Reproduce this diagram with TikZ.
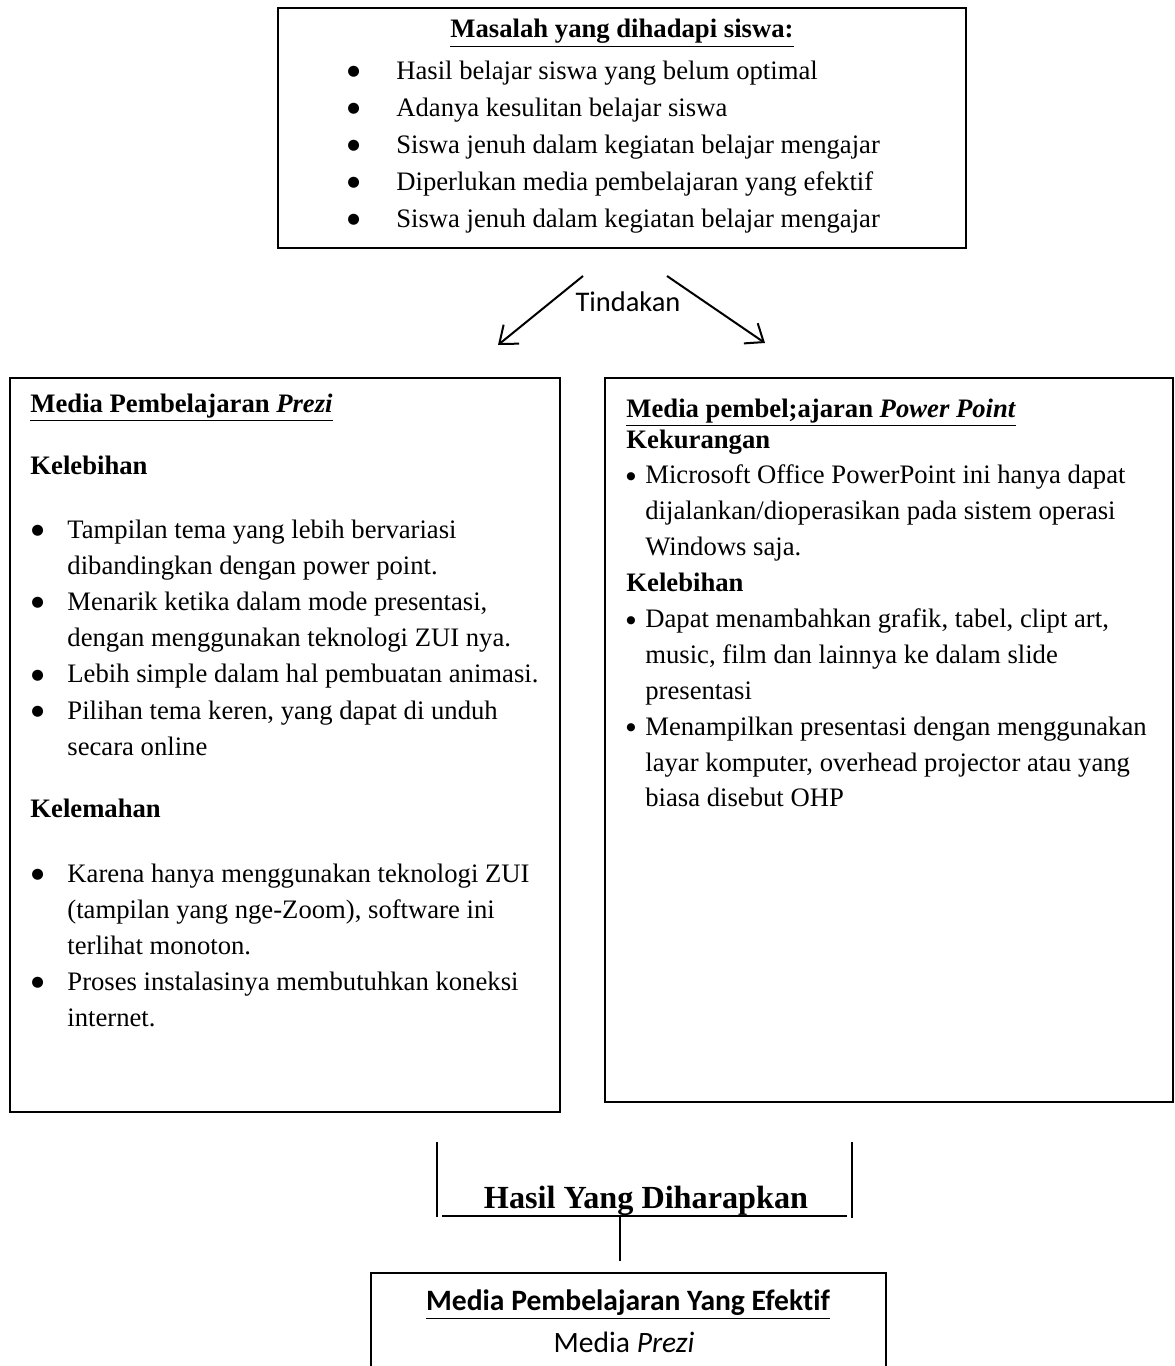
\documentclass[tikz,border=0pt]{standalone}
\usepackage{fontspec}
\setmainfont{Liberation Serif}
\newfontfamily\calibri[Ligatures=NoCommon]{Carlito}
\newfontfamily\dotfont{DejaVu Sans}
\usepackage{tikz}
\usetikzlibrary{arrows.meta,positioning,fit}
\tikzstyle{box} = [rectangle, draw=black, line width=0.8pt, inner sep=0pt]
\tikzstyle{arrow} = [line width=0.9pt, -{Straight Barb[length=7pt,width=11pt]}]
\tikzstyle{txt} = [anchor=base west, inner sep=0pt, font=\fontsize{12}{16.3}\selectfont]
\tikzstyle{head} = [anchor=base west, inner sep=0pt, font=\fontsize{12}{14}\selectfont\bfseries]
\tikzstyle{rule} = [line width=0.6pt]
\newcommand{\bigdot}{\raisebox{0.14em}{\dotfont\fontsize{6.5}{7}\selectfont ●}}
\newcommand{\smalldot}{\raisebox{0.16em}{\dotfont\fontsize{4.8}{5}\selectfont ●}}

\begin{document}
\begin{tikzpicture}[x=0.45pt, y=-0.45pt]
\useasboundingbox (0,0) rectangle (1175,1366);

% Masalah
\node (masalah) [box, fit={(278,8) (966,248)}] {};
\node (masalah_title) [head, anchor=base] at (622,37) {\underline{Masalah yang dihadapi siswa:}};
\node (masalah_list) [txt, font=\fontsize{12}{16.65}\selectfont] at (347,79) {\begin{tabular}[t]{@{}p{22pt}@{}l@{}}
\bigdot & Hasil belajar siswa yang belum optimal\\
\bigdot & Adanya kesulitan belajar siswa\\
\bigdot & Siswa jenuh dalam kegiatan belajar mengajar\\
\bigdot & Diperlukan media pembelajaran yang efektif\\
\bigdot & Siswa jenuh dalam kegiatan belajar mengajar
\end{tabular}};

% Tindakan
\coordinate (split_l) at (583,276);
\coordinate (split_r) at (667,276);
\coordinate (prezi_in) at (498,345);
\coordinate (ppt_in) at (765,343);
\draw[arrow] (split_l) -- (prezi_in);
\draw[arrow] (split_r) -- (ppt_in);
\node (tindakan) [font=\calibri\fontsize{12.8}{15}\selectfont] at (628,302) {Tindakan};

% Prezi
\node (prezi) [box, fit={(10,378) (560,1112)}] {};
\node (prezi_title) [head] at (30,412) {\underline{Media Pembelajaran \textit{Prezi}}};
\node (prezi_plus) [head] at (30,474) {Kelebihan};
\node (prezi_plus_list) [txt] at (31,538) {\begin{tabular}[t]{@{}p{16.2pt}@{}l@{}}
\bigdot & Tampilan tema yang lebih bervariasi\\
& dibandingkan dengan power point.\\
\bigdot & Menarik ketika dalam mode presentasi,\\
& dengan menggunakan teknologi ZUI nya.\\
\bigdot & Lebih simple dalam hal pembuatan animasi.\\
\bigdot & Pilihan tema keren, yang dapat di unduh\\
& secara online
\end{tabular}};
\node (prezi_min) [head] at (30,817) {Kelemahan};
\node (prezi_min_list) [txt, font=\fontsize{12}{16.2}\selectfont] at (31,882) {\begin{tabular}[t]{@{}p{16.2pt}@{}l@{}}
\bigdot & Karena hanya menggunakan teknologi ZUI\\
& (tampilan yang nge-Zoom), software ini\\
& terlihat monoton.\\
\bigdot & Proses instalasinya membutuhkan koneksi\\
& internet.
\end{tabular}};

% Power Point
\node (ppt) [box, fit={(605,378) (1173,1102)}] {};
\node (ppt_title) [head] at (626,417) {\underline{Media pembel;ajaran \textit{Power Point}}};
\node (ppt_list) [txt, font=\fontsize{12}{16.15}\selectfont] at (626,448) {\begin{tabular}[t]{@{}p{8.5pt}@{}l@{}}
\multicolumn{2}{@{}l@{}}{\textbf{Kekurangan}}\\
\smalldot & Microsoft Office PowerPoint ini hanya dapat\\
& dijalankan/dioperasikan pada sistem operasi\\
& Windows saja.\\
\multicolumn{2}{@{}l@{}}{\textbf{Kelebihan}}\\
\smalldot & Dapat menambahkan grafik, tabel, clipt art,\\
& music, film dan lainnya ke dalam slide\\
& presentasi\\
\smalldot & Menampilkan presentasi dengan menggunakan\\
& layar komputer, overhead projector atau yang\\
& biasa disebut OHP
\end{tabular}};

% Hasil
\node (hasil) [anchor=base, inner sep=0pt, font=\fontsize{14.5}{17}\selectfont\bfseries] at (646,1208) {Hasil Yang Diharapkan};
\draw[rule] (437,1142) -- (437,1217);
\draw[rule] (852,1142) -- (852,1218);
\draw[rule] (442,1216) -- (847,1216);
\coordinate (hasil_foot) at (620,1216);

% Media efektif
\node (efektif) [box, fit={(371,1273) (886,1420)}] {};
\draw[rule, shorten >=5pt] (hasil_foot) -- (hasil_foot |- efektif.north);
\node (efektif_title) [anchor=base, inner sep=0pt, font=\calibri\fontsize{13.3}{15}\selectfont\bfseries] at (628,1310) {\underline{Media Pembelajaran Yang Efektif}};
\node (efektif_text) [anchor=base, inner sep=0pt, font=\calibri\fontsize{13.3}{15}\selectfont] at (624,1352) {Media \textit{Prezi}};
\end{tikzpicture}
\end{document}
